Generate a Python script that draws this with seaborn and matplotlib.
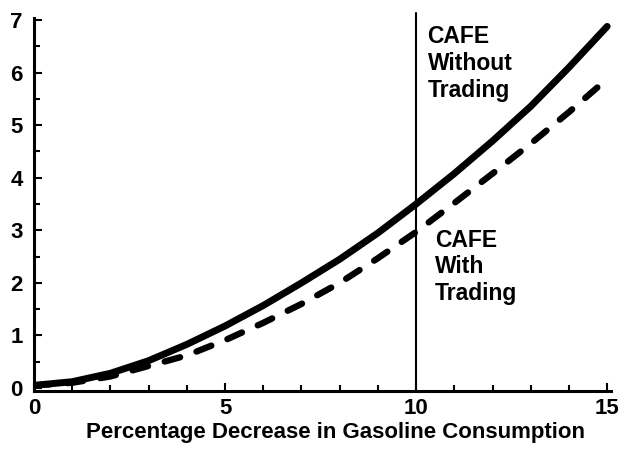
import matplotlib
matplotlib.use("Agg")
import matplotlib.pyplot as plt
import pandas as pd
import seaborn as sns
from matplotlib.ticker import MultipleLocator

# values
pct_decrease = [0, 1, 2, 3, 4, 5, 6, 7, 8, 9, 10, 11, 12, 13, 14, 15]
cost_without_trading = [0.05, 0.12, 0.28, 0.52, 0.83, 1.18, 1.57, 2.0, 2.45, 2.95, 3.5,
                        4.08, 4.7, 5.36, 6.1, 6.88]
cost_with_trading = [0.05, 0.1, 0.22, 0.42, 0.62, 0.91, 1.24, 1.6, 2.0, 2.47, 2.97,
                     3.52, 4.08, 4.65, 5.25, 5.88]
cafe_line_x = 10

df = pd.DataFrame({
    "x": pct_decrease * 2,
    "y": cost_without_trading + cost_with_trading,
    "series": ["without"] * len(pct_decrease) + ["with"] * len(pct_decrease),
})

sns.set_style("ticks")
plt.rcParams["font.family"] = ["Liberation Sans", "DejaVu Sans"]
plt.rcParams["font.weight"] = "bold"
plt.rcParams["lines.scale_dashes"] = False
for key in ["text.color", "axes.labelcolor", "xtick.color", "ytick.color", "axes.edgecolor"]:
    plt.rcParams[key] = "black"

fig = plt.figure(figsize=(6.21, 4.51), dpi=100)
ax = fig.add_axes([34 / 621, 60 / 451, 577 / 621, 373 / 451])

sns.lineplot(data=df[df.series == "without"], x="x", y="y", ax=ax, color="black",
             linewidth=5.0)
ax.lines[-1].set_solid_capstyle("round")
ax.lines[-1].set_solid_joinstyle("round")
sns.lineplot(data=df[df.series == "with"], x="x", y="y", ax=ax, color="black",
             linewidth=4.6)
ax.lines[-1].set_dashes([11.5, 12.5])
ax.lines[-1].set_dash_capstyle("round")

ax.axvline(cafe_line_x, ymin=0, ymax=1.013, color="black", linewidth=1.5, clip_on=False)

ax.set_xlim(0, 15.1)
ax.set_ylim(-0.057, 7.04)
ax.xaxis.set_major_locator(MultipleLocator(5))
ax.xaxis.set_minor_locator(MultipleLocator(1))
ax.yaxis.set_major_locator(MultipleLocator(1))
ax.yaxis.set_minor_locator(MultipleLocator(0.5))
ax.tick_params(which="major", direction="in", length=6, width=1.5, labelsize=16)
ax.tick_params(which="minor", direction="in", length=4, width=1.5)
ax.tick_params(axis="x", pad=5)
ax.tick_params(axis="y", pad=8)
for lbl in ax.get_xticklabels() + ax.get_yticklabels():
    lbl.set_fontweight("bold")

for side in ["top", "right"]:
    ax.spines[side].set_visible(False)
for side in ["left", "bottom"]:
    ax.spines[side].set_linewidth(2.2)

ax.set_xlabel("Percentage Decrease in Gasoline Consumption", fontsize=16,
              fontweight="bold")
ax.xaxis.set_label_coords((336 - 34) / 577, -31 / 373)
ax.set_ylabel("")

ax.text(10.3, 6.9, "CAFE\nWithout\nTrading", fontsize=16.5, fontweight="bold",
        va="top", ha="left", linespacing=1.2)
ax.text(10.5, 3.03, "CAFE\nWith\nTrading", fontsize=16.5, fontweight="bold",
        va="top", ha="left", linespacing=1.2)

fig.savefig("out.png", dpi=100)
